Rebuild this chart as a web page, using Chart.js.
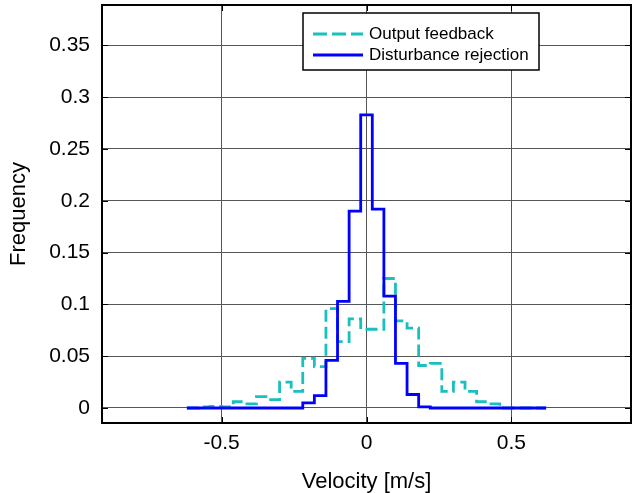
<!DOCTYPE html>
<html>
<head>
<meta charset="utf-8">
<script src="https://cdn.jsdelivr.net/npm/chart.js@4"></script>
<style>
  html, body { margin: 0; padding: 0; background: #fff; }
  #wrap { width: 632px; height: 493px; }
</style>
</head>
<body>
<div id="wrap"><canvas id="histChart" width="632" height="493"></canvas></div>
<script>
// bin centres [m/s], bin width 0.04
const binCenters = [-0.60, -0.56, -0.52, -0.48, -0.44, -0.40, -0.36, -0.32, -0.28, -0.24,
  -0.20, -0.16, -0.12, -0.08, -0.04, 0.00, 0.04, 0.08, 0.12, 0.16,
  0.20, 0.24, 0.28, 0.32, 0.36, 0.40, 0.44, 0.48, 0.52, 0.56, 0.60];
const binWidth = 0.04;
const outputFeedback = [0, 0.001, 0.0015, 0.001, 0.006, 0.004, 0.011, 0.008, 0.025, 0.016,
  0.048, 0.040, 0.096, 0.064, 0.086, 0.076, 0.076, 0.125, 0.084, 0.077,
  0.041, 0.043, 0.016, 0.025, 0.016, 0.006, 0.004, 0, 0, 0, 0];
const disturbanceRejection = [0, 0, 0, 0, 0, 0, 0, 0, 0, 0,
  0.005, 0.012, 0.046, 0.103, 0.190, 0.283, 0.192, 0.108, 0.043, 0.013,
  0.001, 0, 0, 0, 0, 0, 0, 0, 0, 0, 0];
const seriesNames = ["Output feedback", "Disturbance rejection"];
const xTicks = [-0.5, 0, 0.5];
const yTicks = [0, 0.05, 0.1, 0.15, 0.2, 0.25, 0.3, 0.35];

const cyan = "#1abfbf";
const blue = "#0000ff";
const fontFam = "'Liberation Sans', Arial, sans-serif";

// stairs: one point per left bin edge, plus the last right edge
function stairs(vals) {
  const pts = binCenters.map((c, i) => ({x: c - binWidth / 2, y: vals[i]}));
  pts.push({x: binCenters[binCenters.length - 1] + binWidth / 2, y: vals[vals.length - 1]});
  return pts;
}

// axes box, inward ticks, legend
const boxPlugin = {
  id: "boxPlugin",
  afterDatasetsDraw(chart) {
    const {ctx, chartArea: a, scales} = chart;
    ctx.save();
    ctx.strokeStyle = "#000";
    ctx.lineWidth = 1;
    ctx.beginPath();
    yTicks.forEach(v => {
      const y = Math.round(scales.y.getPixelForValue(v)) + 0.5;
      ctx.moveTo(a.left, y); ctx.lineTo(a.left + 6, y);
      ctx.moveTo(a.right, y); ctx.lineTo(a.right - 6, y);
    });
    xTicks.forEach(v => {
      const x = Math.round(scales.x.getPixelForValue(v)) + 0.5;
      ctx.moveTo(x, a.bottom); ctx.lineTo(x, a.bottom - 6);
      ctx.moveTo(x, a.top); ctx.lineTo(x, a.top + 6);
    });
    ctx.stroke();
    ctx.lineWidth = 2;
    ctx.strokeRect(a.left, a.top, a.right - a.left, a.bottom - a.top);
    ctx.restore();
  },
  afterDraw(chart) {
    const ctx = chart.ctx;
    const bx = 303, by = 13, bw = 236, bh = 57;
    ctx.save();
    ctx.fillStyle = "#fff";
    ctx.fillRect(bx, by, bw, bh);
    ctx.strokeStyle = "#000";
    ctx.lineWidth = 1.5;
    ctx.strokeRect(bx, by, bw, bh);
    const rows = [[34, cyan, [14, 5]], [55, blue, []]];
    rows.forEach((r, i) => {
      ctx.strokeStyle = r[1];
      ctx.lineWidth = 2.8;
      ctx.setLineDash(r[2]);
      ctx.beginPath();
      ctx.moveTo(313, r[0]); ctx.lineTo(363, r[0]);
      ctx.stroke();
      ctx.setLineDash([]);
      ctx.fillStyle = "#000";
      ctx.font = "17px " + fontFam;
      ctx.textBaseline = "middle";
      ctx.fillText(seriesNames[i], 369, r[0]);
    });
    ctx.restore();
  }
};

new Chart(document.getElementById("histChart"), {
  type: "line",
  data: {
    datasets: [
      {label: seriesNames[0], data: stairs(outputFeedback), borderColor: cyan, order: 1,
       borderWidth: 2.8, borderDash: [12, 5], stepped: "before", pointRadius: 0, fill: false},
      {label: seriesNames[1], data: stairs(disturbanceRejection), borderColor: blue, order: 0,
       borderWidth: 2.8, stepped: "before", pointRadius: 0, fill: false}
    ]
  },
  options: {
    responsive: false,
    animation: false,
    layout: {padding: {top: 5, right: 1, left: 0, bottom: 0}},
    plugins: {legend: {display: false}, tooltip: {enabled: false}},
    scales: {
      x: {
        type: "linear", min: -0.913, max: 0.913,
        afterBuildTicks: s => { s.ticks = xTicks.map(v => ({value: v})); },
        afterFit: s => { s.height = 70; s.paddingLeft = 0; s.paddingRight = 0; },
        grid: {color: "#555", lineWidth: 1, drawTicks: false},
        border: {display: false},
        ticks: {color: "#000", padding: 8, font: {family: fontFam, size: 21},
                callback: v => String(v)},
        title: {display: true, text: "Velocity [m/s]", color: "#000",
                font: {family: fontFam, size: 22, lineHeight: 1}, padding: {top: 0, bottom: 0}}
      },
      y: {
        type: "linear", min: -0.0145, max: 0.389,
        afterBuildTicks: s => { s.ticks = yTicks.map(v => ({value: v})); },
        afterFit: s => { s.width = 102; s.paddingTop = 0; s.paddingBottom = 0; },
        grid: {color: "#555", lineWidth: 1, drawTicks: false},
        border: {display: false},
        ticks: {color: "#000", padding: 12, font: {family: fontFam, size: 21},
                callback: v => String(v)},
        title: {display: true, text: "Frequency", color: "#000",
                font: {family: fontFam, size: 22, lineHeight: 1}, padding: {top: 8, bottom: 0}}
      }
    }
  },
  plugins: [boxPlugin]
});
</script>
</body>
</html>
